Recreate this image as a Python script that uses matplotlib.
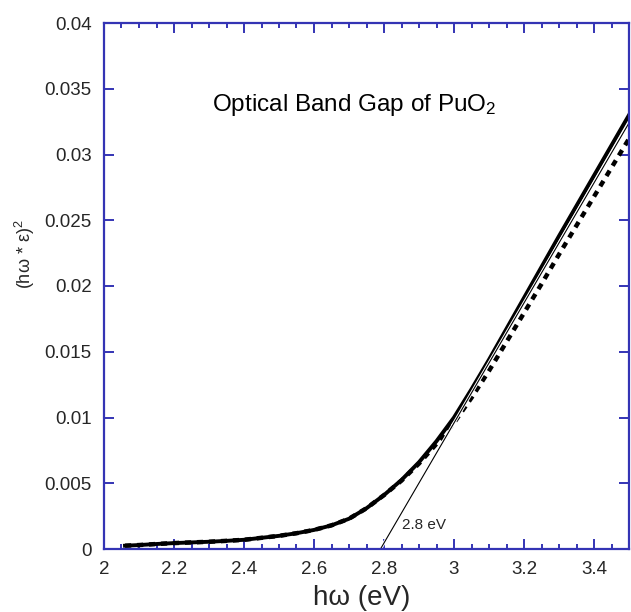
import matplotlib
matplotlib.use("Agg")
import matplotlib.pyplot as plt
import matplotlib.patheffects as pe
from matplotlib.ticker import MultipleLocator, FixedLocator

plt.rcParams['font.family'] = ['Liberation Sans', 'DejaVu Sans']
plt.rcParams['mathtext.fontset'] = 'custom'
plt.rcParams['mathtext.rm'] = 'Liberation Sans'
plt.rcParams['mathtext.it'] = 'Liberation Sans'

# --- data ---
energy = [2.06, 2.10, 2.15, 2.20, 2.25, 2.30, 2.35, 2.40, 2.45, 2.50,
          2.55, 2.60, 2.65, 2.70, 2.75, 2.80, 2.85, 2.90, 2.95, 3.00,
          3.05, 3.10, 3.15, 3.20, 3.25, 3.30, 3.35, 3.40, 3.45, 3.50]
solid_y = [0.00025, 0.00030, 0.00038, 0.00045, 0.00050, 0.00055, 0.00062, 0.00070, 0.00085, 0.00100,
           0.00120, 0.00145, 0.00180, 0.00230, 0.00310, 0.00410, 0.00525, 0.00660, 0.00820, 0.01000,
           0.01215, 0.01440, 0.01675, 0.01910, 0.02145, 0.02380, 0.02610, 0.02840, 0.03070, 0.03300]
dashed_y = [0.00025, 0.00030, 0.00038, 0.00045, 0.00050, 0.00055, 0.00062, 0.00070, 0.00085, 0.00100,
            0.00120, 0.00145, 0.00180, 0.00230, 0.00310, 0.00410, 0.00520, 0.00650, 0.00800, 0.00960,
            0.01150, 0.01355, 0.01575, 0.01795, 0.02015, 0.02240, 0.02460, 0.02680, 0.02900, 0.03120]
fit_x = [2.79, 3.50]
fit_y = [0.0, 0.0324]

x_ticks = [2.0, 2.2, 2.4, 2.6, 2.8, 3.0, 3.2, 3.4]
x_tick_labels = ['2', '2.2', '2.4', '2.6', '2.8', '3', '3.2', '3.4']
y_ticks = [0, 0.005, 0.01, 0.015, 0.02, 0.025, 0.03, 0.035, 0.04]
y_tick_labels = ['0', '0.005', '0.01', '0.015', '0.02', '0.025', '0.03', '0.035', '0.04']

spine_color = '#3434b4'
text_color = '#262626'

fig = plt.figure(figsize=(6.31, 6.12), dpi=100)
ax = fig.add_axes([104 / 631, 1 - 549 / 612, (629 - 104) / 631, (549 - 23) / 612])

ax.plot(energy, dashed_y, color='black', lw=3.2, linestyle=(0, (1.4, 1.3)), solid_capstyle='butt')
ax.plot(energy, solid_y, color='black', lw=2.8)
ax.plot(fit_x, fit_y, color='black', lw=0.8,
        path_effects=[pe.Stroke(linewidth=2.2, foreground='white'), pe.Normal()])

ax.set_xlim(2.0, 3.5)
ax.set_ylim(0, 0.04)

ax.xaxis.set_major_locator(FixedLocator(x_ticks))
ax.set_xticklabels(x_tick_labels)
ax.xaxis.set_minor_locator(MultipleLocator(0.05))
ax.yaxis.set_major_locator(FixedLocator(y_ticks))
ax.set_yticklabels(y_tick_labels)

for s in ax.spines.values():
    s.set_color(spine_color)
    s.set_linewidth(1.6)

ax.tick_params(axis='both', which='both', direction='in', top=True, right=True,
               color=spine_color, width=1.4, labelcolor=text_color, labelsize=13.5)
ax.tick_params(axis='both', which='major', length=7.5)
ax.tick_params(axis='both', which='minor', length=3.8)
ax.tick_params(axis='x', which='major', pad=9)
ax.tick_params(axis='y', which='major', pad=9)

ax.text(2.31, 0.0338, 'Optical Band Gap of PuO$_2$', fontsize=17.5, color='black',
        ha='left', va='center')
ax.text(2.85, 0.0018, '2.8 eV', fontsize=11, color=text_color, ha='left', va='center')

fig.text(362 / 631, 1 - 585 / 612, 'hω (eV)', fontsize=20, color=text_color,
         ha='center', va='top')
fig.text(25 / 631, 1 - 254 / 612, '(hω * ε)$^2$', fontsize=13, color=text_color,
         rotation=90, ha='center', va='center')

fig.savefig('out.png', dpi=100)
